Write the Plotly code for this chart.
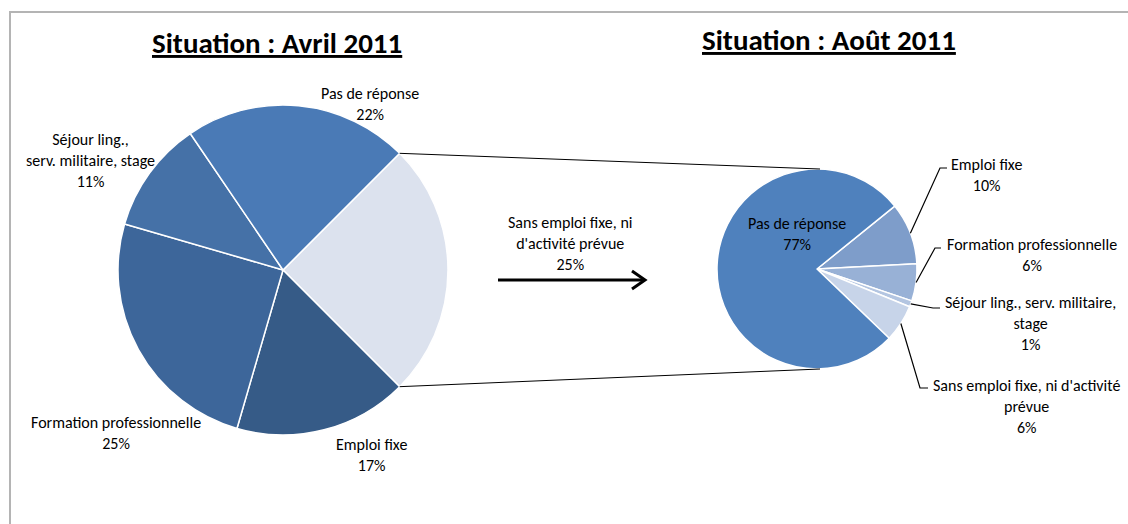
import math
import plotly.graph_objects as go

# ---- data -------------------------------------------------------------
W, H = 1128, 524

avril_labels = ["Sans emploi fixe, ni d'activité prévue", "Emploi fixe",
                "Formation professionnelle", "Séjour ling., serv. militaire, stage",
                "Pas de réponse"]
avril_values = [25, 17, 25, 11, 22]
avril_colors = ["#DCE2EE", "#365B87", "#3D669A", "#4571A7", "#4A7AB6"]

aout_labels = ["Emploi fixe", "Formation professionnelle",
               "Séjour ling., serv. militaire, stage",
               "Sans emploi fixe, ni d'activité prévue", "Pas de réponse"]
aout_values = [10, 6, 1, 6, 77]
aout_colors = ["#7E9DCA", "#98B1D6", "#B3C5E1", "#C7D4E9", "#4F81BD"]

title_left = "Situation : Avril 2011"
title_right = "Situation : Août 2011"

# ---- geometry (pixels) ------------------------------------------------
C1, R1 = (283, 270), 165      # first pie
C2, R2 = (817, 269), 100      # second pie
ROT1, ROT2 = 45, 51           # start angle of first slice, clockwise from 12 o'clock

FONT = "Calibri, Carlito, Lato, sans-serif"
LBL = dict(family=FONT, size=16, color="#000000")


def px(x):
    return x / W


def py(y):
    return 1 - y / H


def domain(c, r):
    return dict(x=[px(c[0] - r), px(c[0] + r)], y=[py(c[1] + r), py(c[1] - r)])


def pt(c, r, ang):
    a = math.radians(ang)
    return c[0] + r * math.sin(a), c[1] - r * math.cos(a)


fig = go.Figure()
fig.add_trace(go.Pie(labels=avril_labels, values=avril_values, sort=False,
                     direction="clockwise", rotation=ROT1, domain=domain(C1, R1),
                     marker=dict(colors=avril_colors, line=dict(color="white", width=1.5)),
                     textinfo="none", hoverinfo="label+percent", showlegend=False))
fig.add_trace(go.Pie(labels=aout_labels, values=aout_values, sort=False,
                     direction="clockwise", rotation=ROT2, domain=domain(C2, R2),
                     marker=dict(colors=aout_colors, line=dict(color="white", width=1.5)),
                     textinfo="none", hoverinfo="label+percent", showlegend=False))

shapes = []
annotations = []

# chart border
shapes.append(dict(type="rect", xref="paper", yref="paper", x0=px(10), x1=px(W + 5),
                   y0=py(H + 5), y1=py(12), line=dict(color="#B4B4B4", width=2)))

# connector lines from the split slice to the second pie
tot1 = sum(avril_values)
a_start = ROT1
a_end = ROT1 + 360 * avril_values[0] / tot1
for ang, y2 in ((a_start, C2[1] - R2), (a_end, C2[1] + R2)):
    x1, y1 = pt(C1, R1, ang)
    shapes.append(dict(type="line", xref="paper", yref="paper",
                       x0=px(x1), y0=py(y1), x1=px(C2[0] + 3), y1=py(y2),
                       line=dict(color="#000000", width=1)))

# arrow between the pies
shapes.append(dict(type="line", xref="paper", yref="paper", x0=px(498), y0=py(280),
                   x1=px(644), y1=py(280), line=dict(color="#000000", width=3)))
shapes.append(dict(type="path", xref="paper", yref="paper",
                   path=f"M {px(632)},{py(271)} L {px(645)},{py(280)} L {px(632)},{py(289)}",
                   line=dict(color="#000000", width=3)))


def note(x, y, text, **kw):
    annotations.append(dict(x=px(x), y=py(y), xref="paper", yref="paper", text=text,
                            showarrow=False, font=kw.pop("font", LBL), align="center",
                            xanchor="center", yanchor="middle", **kw))


# titles
TFONT = dict(family=FONT, size=29, color="#000")
note(277, 43, f"<b><u>{title_left}</u></b>", font=TFONT)
note(829, 40, f"<b><u>{title_right}</u></b>", font=TFONT)

# first pie labels
v1 = dict(zip(avril_labels, avril_values))
note(370, 104, f"Pas de réponse<br>{v1['Pas de réponse']}%")
note(90, 161, f"Séjour ling.,<br>serv. militaire, stage<br>{v1['Séjour ling., serv. militaire, stage']}%")
note(116, 433, f"Formation professionnelle<br>{v1['Formation professionnelle']}%")
note(371, 455, f"Emploi fixe<br>{v1['Emploi fixe']}%")
note(570, 243, f"Sans emploi fixe, ni<br>d'activité prévue<br>{v1[avril_labels[0]]}%")

# second pie labels
v2 = dict(zip(aout_labels, aout_values))
note(797, 234, f"Pas de réponse<br>{v2['Pas de réponse']}%")
note(986, 175, f"Emploi fixe<br>{v2['Emploi fixe']}%")
note(1032, 255, f"Formation professionnelle<br>{v2['Formation professionnelle']}%")
note(1030, 323, f"Séjour ling., serv. militaire,<br>stage<br>{v2['Séjour ling., serv. militaire, stage']}%")
note(1026, 406, f"Sans emploi fixe, ni d'activité<br>prévue<br>{v2[aout_labels[3]]}%")

# leader lines: slice mid-angle on the rim -> elbow -> label
tot2 = sum(aout_values)
elbows = {0: [(940, 168), (947, 168)], 1: [(935, 248), (941, 248)],
          2: [(933, 308), (940, 308)], 3: [(920, 388), (928, 388)]}
acc = ROT2
for i, v in enumerate(aout_values):
    mid = acc + 180 * v / tot2
    acc += 360 * v / tot2
    if i not in elbows:
        continue
    sx, sy = pt(C2, R2, mid)
    pts = [(sx, sy)] + elbows[i]
    path = "M " + " L ".join(f"{px(x)},{py(y)}" for x, y in pts)
    shapes.append(dict(type="path", xref="paper", yref="paper", path=path,
                       line=dict(color="#000000", width=1.2)))

fig.update_layout(width=W, height=H, margin=dict(l=0, r=0, t=0, b=0),
                  paper_bgcolor="white", plot_bgcolor="white",
                  shapes=shapes, annotations=annotations)

fig.write_html("out.html")
